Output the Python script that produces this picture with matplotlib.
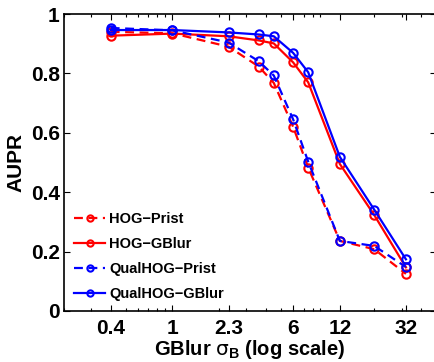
import matplotlib
matplotlib.use('Agg')
import matplotlib.pyplot as plt
from matplotlib.ticker import FixedLocator, FixedFormatter, LogLocator, NullFormatter

plt.rcParams.update({
    'font.family': ['Liberation Sans', 'DejaVu Sans'],
    'font.weight': 'bold',
    'mathtext.fontset': 'custom',
    'mathtext.rm': 'DejaVu Sans:weight=normal',
    'mathtext.bf': 'Liberation Sans:bold',
    'mathtext.it': 'DejaVu Sans:weight=normal',
})

sigma = [0.4, 1, 2.3, 3.6, 4.5, 6, 7.5, 12, 20, 32]
hog_prist = [0.940, 0.935, 0.890, 0.823, 0.768, 0.620, 0.483, 0.236, 0.208, 0.125]
hog_gblur = [0.927, 0.934, 0.925, 0.911, 0.901, 0.837, 0.770, 0.495, 0.323, 0.147]
qual_prist = [0.953, 0.945, 0.904, 0.841, 0.793, 0.645, 0.503, 0.236, 0.219, 0.148]
qual_gblur = [0.946, 0.946, 0.938, 0.931, 0.925, 0.869, 0.804, 0.519, 0.341, 0.174]

xticks = [0.4, 1, 2.3, 6, 12, 32]
xtick_labels = ['0.4', '1', '2.3', '6', '12', '32']
yticks = [0, 0.2, 0.4, 0.6, 0.8, 1]
ytick_labels = ['0', '0.2', '0.4', '0.6', '0.8', '1']

fig = plt.figure(figsize=(4.35, 3.62), dpi=100)
ax = fig.add_axes([64 / 435, 51 / 362, 372 / 435, 297 / 362])

dash = (0, (4, 2.5))
style = dict(marker='o', markersize=6, markerfacecolor='none', markeredgewidth=1.5, linewidth=1.6)
ax.plot(sigma, hog_prist, color='red', linestyle=dash, label='HOG\u2212Prist', **style)
ax.plot(sigma, hog_gblur, color='red', linestyle='-', label='HOG\u2212GBlur', **style)
ax.plot(sigma, qual_prist, color='blue', linestyle=dash, label='QualHOG\u2212Prist', **style)
ax.plot(sigma, qual_gblur, color='blue', linestyle='-', label='QualHOG\u2212GBlur', **style)

ax.set_xscale('log')
ax.set_xlim(0.2, 50)
ax.set_ylim(0, 1)
ax.xaxis.set_major_locator(FixedLocator(xticks))
ax.xaxis.set_major_formatter(FixedFormatter(xtick_labels))
ax.xaxis.set_minor_locator(LogLocator(base=10, subs=range(2, 10)))
ax.xaxis.set_minor_formatter(NullFormatter())
ax.set_yticks(yticks)
ax.set_yticklabels(ytick_labels)

ax.tick_params(which='both', direction='in', top=True, right=True, labelsize=15, width=0.8)
ax.tick_params(which='major', length=4)
ax.tick_params(which='minor', length=2)
ax.tick_params(axis='x', pad=6)
ax.tick_params(axis='y', pad=3)
for s in ax.spines.values():
    s.set_linewidth(1.2)

ax.set_xlabel(r'GBlur $\sigma_{\mathbf{B}}$ (log scale)', fontsize=14.5, fontweight='bold', labelpad=0)
ax.set_ylabel('AUPR', fontsize=15, fontweight='bold', labelpad=4)

leg = ax.legend(loc='lower left', bbox_to_anchor=(0.0, 0.0), frameon=False, fontsize=10.5,
                handlelength=2.1, handletextpad=0.3, labelspacing=0.75, markerscale=0.75,
                borderaxespad=0.3)
for t in leg.get_texts():
    t.set_fontweight('bold')

fig.savefig('out.png', dpi=100, facecolor='white')
